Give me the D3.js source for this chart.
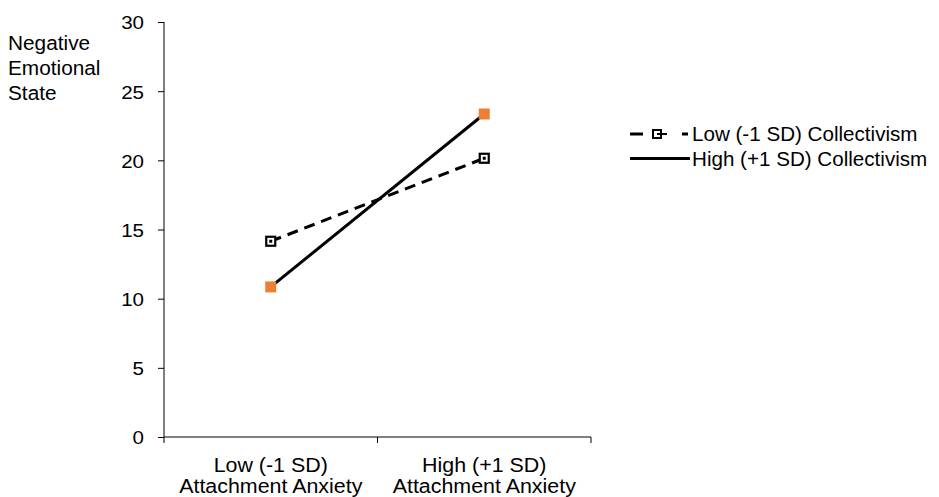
<!DOCTYPE html>
<html><head><meta charset="utf-8">
<script src="https://cdn.jsdelivr.net/npm/d3@7"></script>
<style>body{margin:0;background:#fff}svg{display:block}text{font-family:"Liberation Sans",Arial,sans-serif;fill:#000}</style>
</head><body><div id="c"></div>
<script>
const categories = [["Low (-1 SD)","Attachment Anxiety"],["High (+1 SD)","Attachment Anxiety"]];
const seriesNames = ["Low (-1 SD) Collectivism","High (+1 SD) Collectivism"];
const lowCollectivism = [14.15, 20.15];
const highCollectivism = [10.85, 23.35];
const yTicks = [0,5,10,15,20,25,30];
const yTitle = ["Negative","Emotional","State"];

const W=939,H=497;
const svg=d3.select("#c").append("svg").attr("width",W).attr("height",H);
const x0=164,x1=591,yTop=22,yBot=437;
const x=d3.scaleBand().domain([0,1]).range([x0,x1]).paddingInner(0).paddingOuter(0);
const y=d3.scaleLinear().domain([0,30]).range([yBot,yTop]);
const cx=i=>x(i)+x.bandwidth()/2;
function stretch(sel,f){sel.each(function(){const l=this.getComputedTextLength();this.setAttribute("textLength",l*f);this.setAttribute("lengthAdjust","spacingAndGlyphs");});}

// y axis
const ya=svg.append("g").attr("transform",`translate(${x0},0)`)
 .call(d3.axisLeft(y).tickValues(yTicks).tickSize(6).tickPadding(14));
ya.select(".domain").attr("stroke","#000").attr("d",`M0,${yTop}V${yBot}`);
ya.selectAll(".tick line").attr("stroke","#000");
ya.selectAll("text").style("font-size","19px").style("font-family","Liberation Sans, Arial, sans-serif").attr("dy","0.36em");
stretch(ya.selectAll("text"),1.08);

// x axis
const xa=svg.append("g").attr("transform",`translate(0,${yBot})`);
xa.append("line").attr("x1",x0).attr("x2",x1).attr("stroke","#000");
[x0, x0+x.bandwidth(), x1].forEach(t=>xa.append("line").attr("x1",t).attr("x2",t).attr("y1",0).attr("y2",6).attr("stroke","#000"));
categories.forEach((c,i)=>{
  c.forEach((s,j)=>xa.append("text").attr("x",cx(i)).attr("y",34.5+j*21.5).attr("text-anchor","middle").style("font-size","20px").text(s));
});
stretch(xa.selectAll("text"),1.07);

// y title
yTitle.forEach((s,i)=>svg.append("text").attr("class","yt").attr("x",8).attr("y",50+i*25).style("font-size","20px").text(s));
stretch(svg.selectAll("text.yt"),1.04);

const line=d3.line().x((d,i)=>cx(i)).y(d=>y(d));
svg.append("path").datum(lowCollectivism).attr("d",line).attr("fill","none").attr("stroke","#000").attr("stroke-width",3).attr("stroke-dasharray","11,7");
svg.append("path").datum(highCollectivism).attr("d",line).attr("fill","none").attr("stroke","#000").attr("stroke-width",3);

function openMarker(g,px,py){
  g.append("rect").attr("x",px-4.5).attr("y",py-4.5).attr("width",9).attr("height",9).attr("fill","#fff").attr("stroke","#000").attr("stroke-width",2.2);
  g.append("rect").attr("x",px-1.5).attr("y",py-1.5).attr("width",3).attr("height",3).attr("fill","#000");
}
lowCollectivism.forEach((v,i)=>openMarker(svg,cx(i),y(v)));
highCollectivism.forEach((v,i)=>svg.append("rect").attr("x",cx(i)-5.5).attr("y",y(v)-5.5).attr("width",11).attr("height",11).attr("fill","#EE7E33"));

// legend
const lg=svg.append("g");
lg.append("line").attr("x1",630).attr("x2",689).attr("y1",134).attr("y2",134).attr("stroke","#000").attr("stroke-width",3).attr("stroke-dasharray","13,39,6");
lg.append("rect").attr("x",653).attr("y",130).attr("width",8).attr("height",8).attr("fill","#fff").attr("stroke","#000").attr("stroke-width",2);
lg.append("line").attr("x1",657).attr("x2",667).attr("y1",134).attr("y2",134).attr("stroke","#000").attr("stroke-width",2);
lg.append("line").attr("x1",630).attr("x2",690).attr("y1",158.5).attr("y2",158.5).attr("stroke","#000").attr("stroke-width",3);
seriesNames.forEach((s,i)=>lg.append("text").attr("class","lt").attr("x",692).attr("y",141+i*25).style("font-size","20px").text(s));
stretch(lg.selectAll("text.lt"),1.03);
</script></body></html>
